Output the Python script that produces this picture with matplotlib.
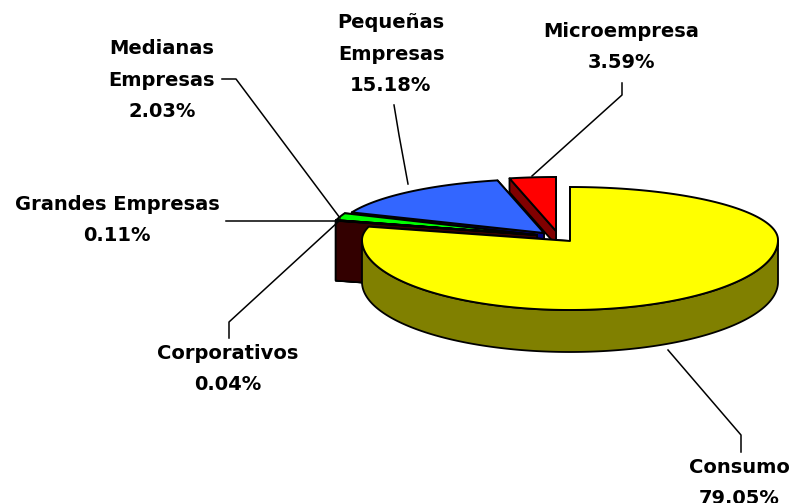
import numpy as np
import matplotlib
matplotlib.use("Agg")
import matplotlib.pyplot as plt
from matplotlib.patches import Polygon

# Datos
nombres = ["Microempresa", "Pequeñas\nEmpresas", "Medianas\nEmpresas",
           "Grandes Empresas", "Corporativos", "Consumo"]
porcentajes = [3.59, 15.18, 2.03, 0.11, 0.04, 79.05]

# Estilo de cada porcion
colores = ["#ff0000", "#3366ff", "#00ff00", "#000040", "#330000", "#ffff00"]
paredes = ["#800000", "#000080", "#006600", "#000040", "#330000", "#808000"]
centros = [(556, 231), (544, 233), (537, 235), (537, 235), (537, 235), (570, 240)]
fondos = [54, 54, 57, 57, 57, 53]
alturas = [14, 6, 60, 60, 60, 42]
RX = 208
RY_FRENTE = 70

# Posicion de las etiquetas
pos_etiquetas = [(621, 47), (391, 54), (162, 80), (117, 220), (228, 369), (739, 483)]
lineas_guia = [
    [(622, 83), (622, 95), (532, 176)],
    [(394, 105), (399, 135), (408, 184)],
    [(222, 79), (236, 79), (340, 218)],
    [(226, 221), (338, 221)],
    [(338, 222), (229, 322), (229, 338)],
    [(668, 350), (741, 435), (741, 452)],
]


def punto(cx, cy, ry_fondo, ang):
    s = np.sin(ang)
    ry = np.where(s > 0, ry_fondo, RY_FRENTE)
    return np.column_stack([cx + RX * np.cos(ang), cy - ry * s])


fig = plt.figure(figsize=(7.94, 5.03), dpi=100)
ax = fig.add_axes([0, 0, 1, 1])
ax.set_xlim(0, 794)
ax.set_ylim(503, 0)
ax.axis("off")

inicios = 90 + np.cumsum([0] + porcentajes[:-1]) * 3.6
fines = 90 + np.cumsum(porcentajes) * 3.6

for i in range(len(porcentajes)):
    cx, cy = centros[i]
    ang = np.radians(np.linspace(inicios[i], fines[i], 200))
    arco = punto(cx, cy, fondos[i], ang)
    apice = np.array([cx, cy + (1 if i == 5 else 0)])
    h = np.array([0, alturas[i]])
    zo = 2 + i

    # pared del corte
    for extremo in (arco[0], arco[-1]):
        if i == 5 and extremo is arco[0]:
            continue
        cara = [extremo, apice, apice + h, extremo + h]
        ax.add_patch(Polygon(cara, fc=paredes[i], ec="black", lw=1.3, zorder=zo, joinstyle="round"))

    # pared exterior (parte de adelante)
    if i == 5:
        frente = np.radians(np.linspace(180, 360, 200))
        borde = punto(cx, cy, fondos[i], frente)
        ax.add_patch(Polygon(np.vstack([borde, (borde + h)[::-1]]), fc=paredes[i], ec="black", lw=1.3, zorder=zo))

    # cara superior
    ax.add_patch(Polygon(np.vstack([apice, arco]), fc=colores[i], ec="black", lw=1.4, zorder=zo + 0.5, joinstyle="round"))

for linea in lineas_guia:
    xs, ys = zip(*linea)
    ax.plot(xs, ys, color="black", lw=1.1, zorder=20)

for nombre, valor, (x, y) in zip(nombres, porcentajes, pos_etiquetas):
    ax.text(x, y, f"{nombre}\n{valor:.2f}%", ha="center", va="center", fontsize=14,
            fontweight="bold", family="DejaVu Sans", linespacing=1.85, color="black", zorder=21)

fig.savefig("out.png", dpi=100, facecolor="white")
